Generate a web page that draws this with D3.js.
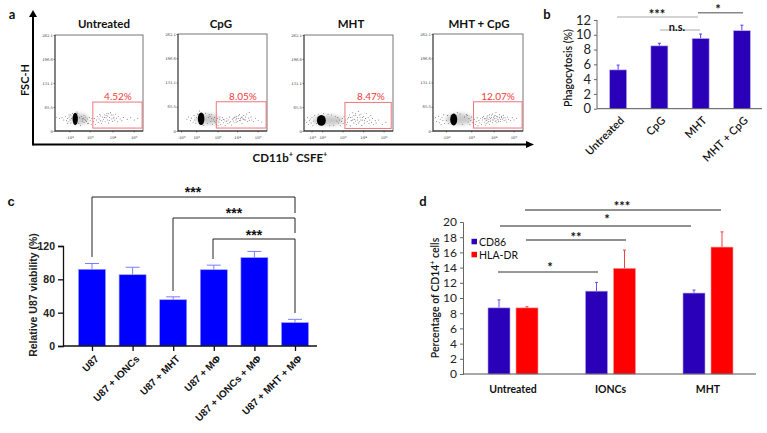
<!DOCTYPE html>
<html><head><meta charset="utf-8">
<script src="https://cdn.jsdelivr.net/npm/d3@7"></script>
<style>html,body{margin:0;padding:0;background:#fff}svg{display:block}text{fill:#111}</style>
</head><body><svg id="c" width="767" height="433"></svg>
<script>
// ---------- data ----------
const flowTitles = ["Untreated","CpG","MHT","MHT + CpG"];
const flowPercents = ["4.52%","8.05%","8.47%","12.07%"];
const flowYTicks = [0,65.5,131.1,196.6,262.1];
const flowXTicks = [
 [[17,"-10","2"],[40,"10","3"],[66,"10","4"],[90,"10","5"]],
 [[4,"-10","3"],[21,"10","2"],[45,"10","3"],[67,"10","4"],[90,"10","5"]],
 [[9,"-10","3"],[21,"10","2"],[44,"10","3"],[67,"10","4"],[90,"10","5"]],
 [[15,"-10","2"],[43,"10","3"],[68,"10","4"],[90,"10","5"]]
];
const flowGates = [[43,99,8,79],[43,99,8,79],[46,98,7,78],[45,99,8,79]];
const flowCores = [[23,33,3,17],[26,33,3.7,17],[19.5,29,5,15],[23,31,3.9,16]];
const flowHalos = [[28,33,10,14],[33,32,13,14],[27,29,17,14],[29,32,15,15]];
const flowDots0 = [[2,38],[5,35],[8,36],[10,30],[12,40],[13,28],[14,34],[15,25],[16,38],[17,30],[18,44],[18,22],[19,34],[30,40],[31,27],[32,35],[33,23],[34,31],[35,38],[36,26],[37,33],[38,21],[39,37],[40,29],[41,18],[42,34],[44,26],[45,34],[46,18],[47,30],[48,39],[49,24],[50,33],[51,45],[52,28],[53,20],[54,38],[55,31],[56,44],[57,25],[58,36],[59,48],[60,30],[60,41],[61,22],[62,37],[63,50],[64,33],[65,26],[66,44],[67,38],[68,30],[69,46],[70,35],[71,25],[72,40],[74,33],[76,28],[78,37],[82,32],[86,36],[90,30],[94,35],
 [20,48],[26,47],[27,21],[28,36],[29,16],[25,52],[31,33],[33,42],[35,29],[37,20],[16,44],[14,21],[61,47],[58,43],[64,44],[62,29],[56,37],[54,27],[66,35],[52,41]];
const flowDots1 = [[10,32],[12,38],[14,28],[15,35],[17,24],[18,42],[19,30],[20,20],[21,36],[36,40],[37,26],[38,34],[39,18],[40,30],[41,37],[42,22],[43,28],[44,34],[45,14],[46,24],[47,32],[48,18],[49,28],[50,36],[51,22],[52,30],[53,14],[54,26],[55,34],[56,20],[57,30],[58,38],[59,25],[60,16],[61,32],[62,27],[63,36],[64,22],[65,30],[66,40],[67,26],[68,34],[69,44],[70,28],[71,37],[72,20],[73,33],[74,42],[75,30],[76,38],[77,46],[78,26],[79,35],[80,50],[80,29],[82,38],[83,30],[85,26],[87,34],[90,28],[94,24],
 [22,46],[24,54],[31,48],[33,20],[35,44],[29,15],[34,37],[38,45],[41,25],[43,17],[47,38],[51,31],[55,27],[58,22],[62,34],[64,38],[66,33],[68,41],[70,33],[72,38],[74,31],[76,30],[66,24],[69,29]];
const flowDots2 = [[1,30],[3,24],[4,36],[5,18],[6,28],[7,33],[8,22],[9,38],[10,14],[11,27],[12,42],[38,36],[39,22],[40,30],[41,14],[42,26],[43,34],[44,20],[45,40],[47,30],[48,17],[49,24],[50,36],[51,44],[52,14],[53,28],[54,38],[55,50],[56,22],[57,32],[58,42],[59,18],[60,30],[61,54],[62,25],[63,38],[64,46],[65,15],[66,30],[67,40],[68,22],[69,34],[70,48],[71,26],[72,36],[73,20],[74,30],[75,42],[76,24],[77,34],[78,18],[80,28],[81,22],[84,30],[88,18],[92,24],
 [14,20],[15,36],[16,46],[22,48],[27,46],[31,44],[29,14],[33,16],[35,40],[37,27],[46,24],[49,33],[52,37],[54,29],[56,42],[58,27],[60,36],[62,44],[64,30],[66,37],[55,31],[58,47],[61,22],[68,29]];
const flowDots3 = [[3,36],[4,26],[6,40],[7,22],[8,32],[9,18],[10,37],[11,28],[12,44],[13,20],[38,42],[39,24],[40,33],[41,18],[42,28],[43,38],[44,22],[46,32],[47,18],[48,26],[49,36],[50,14],[51,28],[52,22],[53,34],[54,18],[55,30],[56,40],[57,24],[58,16],[58,33],[59,28],[60,38],[61,22],[62,32],[63,44],[63,18],[64,27],[65,36],[66,22],[66,46],[67,30],[68,40],[69,26],[70,34],[70,50],[71,22],[72,38],[73,30],[74,44],[75,26],[76,36],[77,32],[78,42],[79,28],[80,36],[81,30],[82,24],[83,38],[84,32],[86,28],[88,36],[90,30],[93,34],
 [15,28],[16,42],[17,20],[27,50],[30,46],[33,18],[35,38],[37,44],[55,36],[57,33],[59,20],[60,30],[61,41],[62,26],[64,33],[65,43],[67,37],[68,33],[69,42],[70,28],[71,39],[72,32],[74,36],[75,32],[76,40],[66,30],[63,37],[60,34],[73,25],[78,35]];
const flowDots = [flowDots0,flowDots1,flowDots2,flowDots3];

const phagoCats = ["Untreated","CpG","MHT","MHT + CpG"];
const phagoVals = [5.25,8.5,9.5,10.55];
const phagoTops = [5.9,8.85,10.1,11.3];
const phagoTicks = [0,2,4,6,8,10,12];

const viaCats = ["U87","U87 + IONCs","U87 + MHT","U87 + M\u03A6","U87 + IONCs + M\u03A6","U87 + MHT + M\u03A6"];
const viaVals = [92,85.5,55.5,91.5,106,28];
const viaTops = [99,94.5,59,97,113.5,32];
const viaTicks = [0,40,80,120];

const cd14Cats = ["Untreated","IONCs","MHT"];
const cd86Vals = [8.7,10.9,10.65];
const cd86Tops = [9.75,12.05,11.05];
const hlaVals = [8.7,13.9,16.7];
const hlaTops = [8.85,16.3,18.7];
const cd14Ticks = [0,2,4,6,8,10,12,14,16,18,20];
const seriesNames = ["CD86","HLA-DR"];

// ---------- helpers ----------
const svg = d3.select("#c");
const CAL = "Lato, 'Open Sans', sans-serif";
const ARI = "'Liberation Sans', Arial, sans-serif";
function txt(g,x,y,s,o={}){
  const t=g.append("text").attr("x",x).attr("y",y).text(s)
    .attr("font-family",o.f||CAL).attr("font-size",o.s||11)
    .attr("font-weight",o.w||"normal").attr("text-anchor",o.a||"middle")
    .attr("dominant-baseline","central");
  if(o.c) t.style("fill",o.c);
  if(o.r!==undefined) t.attr("transform",`rotate(${o.r} ${x} ${y})`);
  return t;
}
function ln(g,x1,y1,x2,y2,c="#000",w=1){
  g.append("line").attr("x1",x1).attr("y1",y1).attr("x2",x2).attr("y2",y2).attr("stroke",c).attr("stroke-width",w);
}
function styleAxis(a,color,w,size,font,weight){
  a.selectAll("path").attr("stroke",color).attr("stroke-width",w);
  a.selectAll("line").attr("stroke",color).attr("stroke-width",w);
  a.selectAll("text").attr("font-size",size).attr("font-family",font).attr("font-weight",weight).style("fill","#222");
}

// ---------- panel a ----------
const A = svg.append("g");
const frames = [[55,143,35,131,104,118],[178,267,34,131,221,243],[304,393,35,131,351,371],[433,523,34,131,479,498]];
const defs=svg.append("defs");
defs.append("filter").attr("id","soft").append("feGaussianBlur").attr("stdDeviation",0.3);
defs.append("filter").attr("id","cloud").attr("x","-50%").attr("y","-50%").attr("width","200%").attr("height","200%").append("feGaussianBlur").attr("stdDeviation",2);
frames.forEach((f,i)=>{
  const x=d3.scaleLinear().domain([0,100]).range([f[0],f[1]]);
  const y=d3.scaleLinear().domain([0,262.1]).range([f[3],f[2]]);
  const g=A.append("g");
  g.append("rect").attr("x",f[0]).attr("y",f[2]).attr("width",f[1]-f[0]).attr("height",f[3]-f[2])
    .attr("fill","#fff").attr("stroke","#777").attr("stroke-width",1);
  ln(g,f[0],f[2],f[0],f[3],"#333",0.8); ln(g,f[0],f[3],f[1],f[3],"#222",1);
  const yA=g.append("g").attr("transform",`translate(${f[0]},0)`).call(d3.axisLeft(y).tickValues(flowYTicks).tickSize(1.5).tickFormat(d=>d));
  yA.select("path").remove();
  yA.selectAll("line").attr("stroke","#333").attr("stroke-width",.6);
  yA.selectAll("text").attr("font-size",3.8).attr("font-family","'DejaVu Serif',serif").attr("x",-2).style("fill","#333");
  flowXTicks[i].forEach(t=>{
    const tx=g.append("text").attr("x",x(t[0])).attr("y",139).attr("text-anchor","middle")
      .attr("font-size",3.8).attr("font-family","'DejaVu Serif',serif").style("fill","#333").text(t[1]);
    tx.append("tspan").attr("dy",-1.2).attr("font-size",2.8).text(t[2]);
    ln(g,x(t[0]),f[3],x(t[0]),f[3]+1.5,"#333",.6);
  });
  const h=flowHalos[i], c=flowCores[i];
  g.append("ellipse").attr("filter","url(#cloud)").attr("cx",x(h[0])).attr("cy",y(h[1])).attr("rx",x(h[2])-x(0)).attr("ry",y(0)-y(h[3])).attr("fill","#777").attr("opacity",.4);
  const d=g.append("g").attr("filter","url(#soft)");
  d.append("ellipse").attr("cx",x(c[0])).attr("cy",y(c[1])).attr("rx",x(c[2])-x(0)).attr("ry",y(0)-y(c[3])).attr("fill","#000");
  d.selectAll("circle").data(flowDots[i]).join("circle")
    .attr("cx",p=>x(p[0])).attr("cy",p=>y(p[1])).attr("r",.45).attr("fill","#222");
  const q=flowGates[i];
  g.append("rect").attr("x",x(q[0])).attr("y",y(q[3])).attr("width",x(q[1])-x(q[0])).attr("height",y(q[2])-y(q[3]))
    .attr("fill","none").attr("stroke","#f0757c").attr("stroke-width",1);
  txt(A,f[4],23,flowTitles[i],{s:11.5,w:"bold"});
  txt(A,f[5],96,flowPercents[i],{s:10,c:"#f03a3a"});
});
ln(A,33,144.5,526,144.5,"#000",2);
ln(A,33,145.5,33,14,"#000",2);
A.append("path").attr("d","M33,10 L29,17 L37,17 Z").attr("fill","#000");
A.append("path").attr("d","M534,144.5 L526,141 L526,148 Z").attr("fill","#000");
txt(A,24,80,"FSC-H",{s:11,w:"bold",r:-90});
const xl=txt(A,290,157,"CD11b",{s:11.5,w:"bold"});
xl.append("tspan").attr("dy",-3).attr("font-size",7.5).text("+");
xl.append("tspan").attr("dy",3).text(" CSFE");
xl.append("tspan").attr("dy",-3).attr("font-size",7.5).text("+");
txt(A,12,14,"a",{s:13,w:"bold"});
txt(A,547,14,"b",{s:13,w:"bold"});
txt(A,11,201,"c",{s:13,w:"bold",f:ARI});
txt(A,423,201,"d",{s:13,w:"bold"});

// ---------- panel b ----------
{
  const g=svg.append("g"), col="#2a00b8";
  const y=d3.scaleLinear().domain([0,12]).range([108.7,20]);
  const x=d3.scaleBand().domain(phagoCats).range([597,762]).paddingInner(0).paddingOuter(0);
  const cx=d=>x(d)+x.bandwidth()/2;
  phagoCats.forEach((c,i)=>{
    const X=cx(c)+0.5;
    ln(g,X,y(phagoVals[i]),X,y(phagoTops[i]),"#5a3fe0",1);
    ln(g,X-1.5,y(phagoTops[i]),X+1.5,y(phagoTops[i]),"#5a3fe0",1);
  });
  g.selectAll("rect").data(phagoVals).join("rect")
    .attr("x",(d,i)=>cx(phagoCats[i])-8).attr("width",17).attr("y",d=>y(d)).attr("height",d=>y(0)-y(d))
    .attr("fill",col).attr("stroke","#bdb0f5").attr("stroke-width",.6);
  const a=g.append("g").attr("transform","translate(597,0)").call(d3.axisLeft(y).tickValues(phagoTicks).tickSize(3));
  styleAxis(a,"#666",1,13,CAL,"normal"); a.select("path").attr("d","M0,20V108.7");
  ln(g,597,108.7,762,108.7,"#555",1);
  txt(g,568,68,"Phagocytosis (%)",{s:10.5,w:"600",r:-90});
  phagoCats.forEach(c=>{
    const X=cx(c)+4, Y=118;
    g.append("text").attr("x",X).attr("y",Y).attr("text-anchor","end").attr("dominant-baseline","central")
      .attr("transform",`rotate(-45 ${X} ${Y})`).attr("font-family",CAL).attr("font-size",11).attr("font-weight","600").text(c);
  });
  ln(g,617,17,698,17,"#aaa",1.2);
  ln(g,660,30,700,30,"#aaa",1.2);
  ln(g,698,12.7,743,12.7,"#888",1.4);
  txt(g,657,14,"***",{s:13,w:"bold"});
  txt(g,677,26,"n.s.",{s:11,w:"bold"});
  txt(g,718,9,"*",{s:13,w:"bold"});
}

// ---------- panel c ----------
{
  const g=svg.append("g");
  const y=d3.scaleLinear().domain([0,120]).range([346,246]);
  const x=d3.scalePoint().domain(viaCats).range([92,295]);
  const lc="#7c7cff";
  viaCats.forEach((c,i)=>{
    const X=x(c);
    ln(g,X,y(viaVals[i]),X,y(viaTops[i]),lc,1);
    ln(g,X-7,y(viaTops[i]),X+7,y(viaTops[i]),lc,1);
  });
  g.selectAll("rect").data(viaVals).join("rect")
    .attr("x",(d,i)=>x(viaCats[i])-13.5).attr("width",27).attr("y",d=>y(d)).attr("height",d=>y(0)-y(d))
    .attr("fill","#0000ff").attr("stroke","#9a9aff").attr("stroke-width",.6);
  const a=g.append("g").attr("transform","translate(63,0)").call(d3.axisLeft(y).tickValues(viaTicks).tickSize(5));
  styleAxis(a,"#111",1.3,10.5,ARI,"bold");
  const b=g.append("g").attr("transform","translate(0,346)").call(d3.axisBottom(x).tickSize(5).tickFormat(""));
  styleAxis(b,"#111",1.3,10.5,ARI,"bold");
  b.select("path").attr("d","M63,0H317");
  viaCats.forEach(c=>{
    const X=x(c)+5, Y=357;
    g.append("text").attr("x",X).attr("y",Y).attr("text-anchor","end").attr("dominant-baseline","central")
      .attr("transform",`rotate(-45 ${X} ${Y})`).attr("font-family",ARI).attr("font-size",10).attr("font-weight","bold").text(c);
  });
  txt(g,33,295,"Relative U87 viability (%)",{s:10.5,w:"bold",f:ARI,r:-90}).style("fill","#222");
  const br=(x1,x2,yt,yl,yr)=>g.append("path")
    .attr("d",`M${x1},${yl}V${yt}H${x2}V${yr}`).attr("fill","none").attr("stroke","#222").attr("stroke-width",1);
  br(92,295,197,257,213);
  br(173,295,218,291,233);
  br(213,295,239,259,313);
  txt(g,193,192,"***",{s:14,w:"bold",f:ARI});
  txt(g,234,213,"***",{s:14,w:"bold",f:ARI});
  txt(g,254,235,"***",{s:14,w:"bold",f:ARI});
}

// ---------- panel d ----------
{
  const g=svg.append("g");
  const y=d3.scaleLinear().domain([0,20]).range([374,222]);
  const x=d3.scalePoint().domain(cd14Cats).range([513,708]);
  const cols=["#2a00b8","#ff0000"], errs=["#6a50e8","#f04040"];
  [[cd86Vals,cd86Tops,-14],[hlaVals,hlaTops,14]].forEach((s,k)=>{
    const G=g.append("g");
    cd14Cats.forEach((c,i)=>{
      const X=x(c)+s[2];
      ln(G,X,y(s[0][i]),X,y(s[1][i]),errs[k],1);
      ln(G,X-1.5,y(s[1][i]),X+1.5,y(s[1][i]),errs[k],1);
    });
    G.selectAll("rect").data(s[0]).join("rect")
      .attr("x",(d,i)=>x(cd14Cats[i])+s[2]-11).attr("width",22).attr("y",d=>y(d)).attr("height",d=>y(0)-y(d))
      .attr("fill",cols[k]).attr("stroke",k?"#ff9a9a":"#b0a0f5").attr("stroke-width",.6);
  });
  const a=g.append("g").attr("transform","translate(463,0)").call(d3.axisLeft(y).tickValues(cd14Ticks).tickSize(3));
  styleAxis(a,"#666",1,12,CAL,"normal");
  ln(g,463,374,756,374,"#555",1);
  cd14Cats.forEach(c=>txt(g,x(c),389,c,{s:10.5,w:"bold"}));
  const ylab=txt(g,435,298,"Percentage of CD14",{s:10.5,w:"600",r:-90});
  ylab.append("tspan").attr("dy",-3).attr("font-size",7).text("+");
  ylab.append("tspan").attr("dy",3).text(" cells");
  seriesNames.forEach((n,i)=>{
    const Y=241.5+i*13;
    g.append("rect").attr("x",471.5).attr("y",Y-2.7).attr("width",5.5).attr("height",5.5).attr("fill",cols[i]);
    txt(g,479,Y,n,{s:10.5,a:"start"});
  });
  ln(g,525,210,721,210,"#222",1);
  ln(g,500,226,691,226,"#222",1);
  ln(g,526,240,626,240,"#222",1.2);
  ln(g,498,272,598,272,"#333",1);
  txt(g,622,206,"***",{s:13,w:"bold"});
  txt(g,607,219,"*",{s:13,w:"bold"});
  txt(g,576,237,"**",{s:13,w:"bold"});
  txt(g,550,267,"*",{s:13,w:"bold"});
}
</script></body></html>
